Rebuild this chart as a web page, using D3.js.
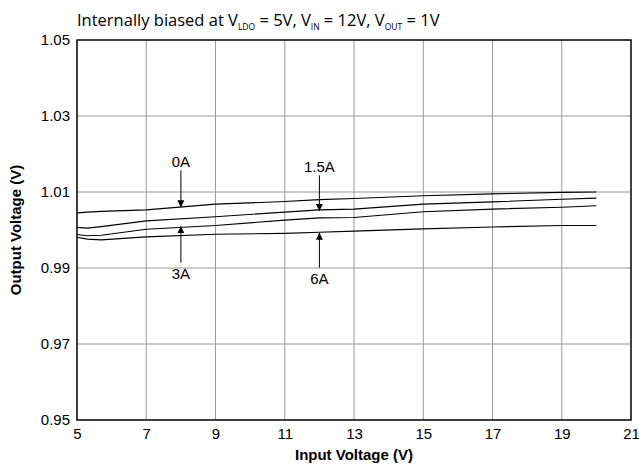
<!DOCTYPE html>
<html>
<head>
<meta charset="utf-8">
<script src="https://cdn.jsdelivr.net/npm/d3@7"></script>
<style>
  body { margin: 0; background: #fff; }
  svg { display: block; font-family: Arial, "Liberation Sans", sans-serif; }
</style>
</head>
<body>
<svg id="chart" width="639" height="468"></svg>
<script>
// input voltage sample points (V)
const vin = [5, 5.3, 5.7, 7, 9, 11, 12, 13, 15, 17, 19, 20];

// output voltage per load current (V)
const out0A   = [1.0045, 1.0047, 1.0049, 1.0053, 1.0068, 1.0075, 1.0080, 1.0083, 1.0090, 1.0095, 1.0099, 1.0100];
const out1p5A = [1.0007, 1.0005, 1.0009, 1.0024, 1.0035, 1.0047, 1.0053, 1.0055, 1.0068, 1.0074, 1.0081, 1.0084];
const out3A   = [0.9988, 0.9985, 0.9986, 1.0002, 1.0012, 1.0026, 1.0032, 1.0033, 1.0048, 1.0055, 1.0060, 1.0064];
const out6A   = [0.9981, 0.9976, 0.9974, 0.9982, 0.9989, 0.9991, 0.9994, 0.9997, 1.0003, 1.0008, 1.0012, 1.0012];

const xTicks = [5, 7, 9, 11, 13, 15, 17, 19, 21];
const yTicks = [0.95, 0.97, 0.99, 1.01, 1.03, 1.05];

// callouts: label, x position, arrow tip value, label value (V)
const callouts = [
  { label: "0A",   x: 8,  tip: 1.0060, text: 1.0178 },
  { label: "1.5A", x: 12, tip: 1.0050, text: 1.0165 },
  { label: "3A",   x: 8,  tip: 1.0010, text: 0.9885 },
  { label: "6A",   x: 12, tip: 0.9993, text: 0.9872 }
];

const svg = d3.select("#chart"),
    margin = {top: 40, right: 8, bottom: 48, left: 77},
    width = +svg.attr("width"),
    height = +svg.attr("height");

const x = d3.scaleLinear().domain([5, 21]).range([margin.left, width - margin.right]);
const y = d3.scaleLinear().domain([0.95, 1.05]).range([height - margin.bottom, margin.top]);

svg.append("defs").append("marker")
    .attr("id", "head")
    .attr("viewBox", "0 0 10 10")
    .attr("refX", 10).attr("refY", 5)
    .attr("markerWidth", 7).attr("markerHeight", 7)
    .attr("markerUnits", "userSpaceOnUse")
    .attr("orient", "auto")
  .append("path")
    .attr("d", "M0,0 L10,5 L0,10 Z")
    .attr("fill", "#000");

// grid
svg.append("g")
    .selectAll("line")
    .data(xTicks.slice(1, -1))
    .enter().append("line")
    .attr("x1", d => x(d)).attr("x2", d => x(d))
    .attr("y1", y(0.95)).attr("y2", y(1.05))
    .attr("stroke", "#9a9a9a").attr("stroke-width", 1);

svg.append("g")
    .selectAll("line")
    .data(yTicks.slice(1, -1))
    .enter().append("line")
    .attr("x1", x(5)).attr("x2", x(21))
    .attr("y1", d => y(d)).attr("y2", d => y(d))
    .attr("stroke", "#9a9a9a").attr("stroke-width", 1);

// axes
svg.append("g")
    .attr("transform", "translate(0," + y(0.95) + ")")
    .call(d3.axisBottom(x).tickValues(xTicks).tickSize(0).tickPadding(8).tickFormat(d3.format("d")))
    .call(g => g.select(".domain").remove())
    .selectAll("text").attr("font-size", 15).attr("fill", "#000").attr("font-family", "Arial, 'Liberation Sans', sans-serif");

svg.append("g")
    .attr("transform", "translate(" + x(5) + ",0)")
    .call(d3.axisLeft(y).tickValues(yTicks).tickSize(0).tickPadding(7).tickFormat(d3.format(".2f")))
    .call(g => g.select(".domain").remove())
    .selectAll("text").attr("font-size", 15).attr("fill", "#000").attr("font-family", "Arial, 'Liberation Sans', sans-serif");

// frame
svg.append("rect")
    .attr("x", x(5)).attr("y", y(1.05))
    .attr("width", x(21) - x(5)).attr("height", y(0.95) - y(1.05))
    .attr("fill", "none").attr("stroke", "#000").attr("stroke-width", 1.5);

// curves
const line = d3.line().x((d, i) => x(vin[i])).y(d => y(d));
svg.append("g")
    .selectAll("path")
    .data([out0A, out1p5A, out3A, out6A])
    .enter().append("path")
    .attr("d", line)
    .attr("fill", "none")
    .attr("stroke", "#000")
    .attr("stroke-width", 1.1);

// callouts
const c = svg.append("g");
c.selectAll("line")
    .data(callouts)
    .enter().append("line")
    .attr("x1", d => x(d.x))
    .attr("x2", d => x(d.x))
    .attr("y1", d => y(d.text) + (d.text > d.tip ? 8 : -11))
    .attr("y2", d => y(d.tip))
    .attr("stroke", "#000").attr("stroke-width", 1)
    .attr("marker-end", "url(#head)");

c.selectAll("text")
    .data(callouts)
    .enter().append("text")
    .attr("x", d => x(d.x))
    .attr("y", d => y(d.text) + 5)
    .attr("text-anchor", "middle")
    .attr("font-size", 15)
    .text(d => d.label);

// axis titles
svg.append("text")
    .attr("x", (x(5) + x(21)) / 2)
    .attr("y", 460)
    .attr("text-anchor", "middle")
    .attr("font-size", 15)
    .attr("font-weight", "bold")
    .text("Input Voltage (V)");

svg.append("text")
    .attr("transform", "translate(21," + ((y(0.95) + y(1.05)) / 2) + ") rotate(-90)")
    .attr("text-anchor", "middle")
    .attr("font-size", 15)
    .attr("font-weight", "bold")
    .text("Output Voltage (V)");

// title with subscripts
const t = svg.append("text")
    .attr("x", x(5))
    .attr("y", 26)
    .attr("font-size", 16.5)
    .attr("font-family", "'Open Sans', sans-serif");
const parts = [
  ["Internally biased at V", false], ["LDO", true], [" = 5V, V", false], ["IN", true],
  [" = 12V, V", false], ["OUT", true], [" = 1V", false]
];
parts.forEach((p, i) => {
  const s = t.append("tspan").text(p[0]);
  if (p[1]) s.attr("font-size", 8.5).attr("dy", 3.5);
  else if (i > 0) s.attr("dy", -3.5);
});
</script>
</body>
</html>
